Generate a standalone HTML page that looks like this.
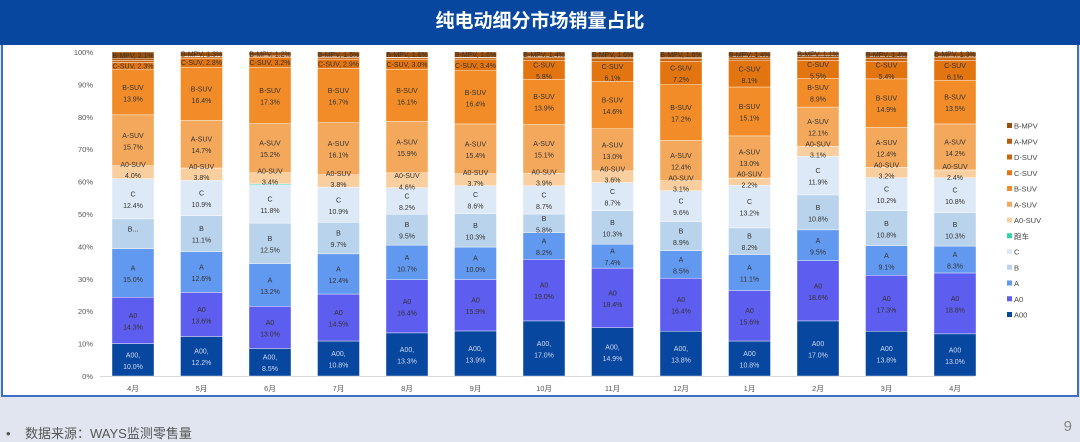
<!DOCTYPE html>
<html><head><meta charset="utf-8">
<style>
body{margin:0;width:1080px;height:441px;overflow:hidden;background:#e1e5f0;font-family:"Liberation Sans","Noto Sans CJK SC",sans-serif;position:relative}
#hdr{position:absolute;left:0;top:0;width:1080px;height:45px;background:#0747a0;color:#fff;font-size:19px;font-weight:bold;text-align:center;line-height:44px}
#panel{position:absolute;left:1px;top:45px;width:1074px;height:350px;background:#fff;border:2px solid #3a6fc4;border-top:none}
#src{position:absolute;left:6px;top:423px;font-size:13px;color:#555}
#pg{position:absolute;right:8px;top:418px;font-size:15px;color:#888}
svg{position:absolute;left:0;top:0}
</style></head><body>
<div id="hdr">纯电动细分市场销量占比</div>
<div id="panel"></div>
<div id="src">•&nbsp;&nbsp;&nbsp;&nbsp;数据来源：WAYS监测零售量</div>
<div id="pg">9</div>
<svg id="chart" width="1080" height="441"></svg>
<script>
const months=["4月","5月","6月","7月","8月","9月","10月","11月","12月","1月","2月","3月","4月"];
const seriesNames=["A00","A0","A","B","C","跑车","A0-SUV","A-SUV","B-SUV","C-SUV","D-SUV","A-MPV","B-MPV"];
const sA00=[10.0,12.2,8.5,10.8,13.3,13.9,17.0,14.9,13.8,10.8,17.0,13.8,13.0];
const sA0=[14.3,13.6,13.0,14.5,16.4,15.9,19.0,18.4,16.4,15.6,18.6,17.3,18.8];
const sA=[15.0,12.6,13.2,12.4,10.7,10.0,8.2,7.4,8.5,11.1,9.5,9.1,8.3];
const sB=[9.2,11.1,12.5,9.7,9.5,10.3,5.8,10.3,8.9,8.2,10.8,10.8,10.3];
const sC=[12.4,10.9,11.8,10.9,8.2,8.6,8.7,8.7,9.6,13.2,11.9,10.2,10.8];
const sSports=[0,0,0.3,0,0,0,0,0,0,0,0,0,0];
const sA0SUV=[4.0,3.8,3.4,3.8,4.6,3.7,3.9,3.6,3.1,2.2,3.1,3.2,2.4];
const sASUV=[15.7,14.7,15.2,16.1,15.9,15.4,15.1,13.0,12.4,13.0,12.1,12.4,14.2];
const sBSUV=[13.9,16.4,17.3,16.7,16.1,16.4,13.9,14.6,17.2,15.1,8.9,14.9,13.5];
const sCSUV=[2.3,2.8,3.2,2.9,3.0,3.4,5.8,6.1,7.2,8.1,5.5,5.4,6.1];
const sDSUV=[0.6,0.4,0.3,0.5,0.5,0.6,0.8,0.9,0.9,0.8,0.9,0.9,0.8];
const sAMPV=[0.5,0.2,0.1,0.2,0.2,0.2,0.4,0.5,0.4,0.5,0.6,0.6,0.5];
const sBMPV=[2.1,1.3,1.2,1.5,1.6,1.6,1.4,1.6,1.6,1.4,1.1,1.4,1.3];
const yTicks=[0,10,20,30,40,50,60,70,80,90,100];
const allSeries=[sA00,sA0,sA,sB,sC,sSports,sA0SUV,sASUV,sBSUV,sCSUV,sDSUV,sAMPV,sBMPV];
const colors=["#0747a0","#5d5df0","#6199f0","#b9d3ec","#dde9f6","#2ed3a8","#f9cfa0","#f4a85c","#f28c28","#e37510","#c8650f","#b35c0c","#9a4e0a"];
const NS="http://www.w3.org/2000/svg";
const svg=document.getElementById('chart');
const y0=376,y1=52,x0=133,dx=68.5,bw=42;
const yS=v=>y0-(y0-y1)*v/100;
const xS=i=>x0+dx*i;
function mk(t,a){const e=document.createElementNS(NS,t);for(const k in a)e.setAttribute(k,a[k]);svg.appendChild(e);return e;}
yTicks.forEach(t=>{const e=mk('text',{x:93,y:yS(t)+3,'text-anchor':'end','font-size':7.5,fill:'#555'});e.textContent=t+'%';

});
const ax=mk('line',{x1:100,x2:975,y1:y0+0.5,y2:y0+0.5,stroke:'#d9d9d9'});


const labels=[];
months.forEach((m,i)=>{
  let tot=0;allSeries.forEach(s=>tot+=s[i]);
  let acc=0;
  allSeries.forEach((s,k)=>{
    const v=s[i];if(v<=0)return;
    const ya=yS(acc/tot*100),yb=yS((acc+v)/tot*100);acc+=v;
    const r=mk('rect',{x:xS(i)-bw/2,y:yb,width:bw,height:ya-yb,fill:colors[k],stroke:'#fff','stroke-width':0.4});
    
    
    if(k===5||k===10||k===11)return;
    labels.push([i,k,v,ya,yb]);
  });
  const xl=mk('text',{x:xS(i),y:391,'text-anchor':'middle','font-size':7.5,fill:'#555'});xl.textContent=m;
  
  
});
labels.forEach(([i,k,v,ya,yb])=>{
  const h=ya-yb,cy=(ya+yb)/2,nm=(k===0&&i<9)?'A00,':seriesNames[k];
  const fc=k===0?'#cdd8ee':'#333';
  if(k===12||(k===9&&v<5)){const t=mk('text',{x:xS(i),y:cy+2.5,'text-anchor':'middle','font-size':7,fill:fc});
    t.textContent=seriesNames[k]+', '+v.toFixed(1)+'%';
    
    }
  else{
    let a=cy-2.5,b=cy+9;
    if(h<14){a=cy-5;b=cy+6;}
    const t1=mk('text',{x:xS(i),y:a,'text-anchor':'middle','font-size':7,fill:fc});t1.textContent=(k===3&&i===0)?'B...':nm;
    
    
    if(!(k===3&&i===0)){const t2=mk('text',{x:xS(i),y:b,'text-anchor':'middle','font-size':7,fill:fc});t2.textContent=v.toFixed(1)+'%';
    
    }}
});
for(let k=12;k>=0;k--){
  const yy=126+(12-k)*15.75;
  const sq=mk('rect',{x:1007,y:yy-3,width:5,height:5,fill:colors[k]});
  
  
  const t=mk('text',{x:1014,y:yy+2.5,'font-size':7.5,fill:'#444'});t.textContent=seriesNames[k];
  
  
}
</script>
</body></html>
